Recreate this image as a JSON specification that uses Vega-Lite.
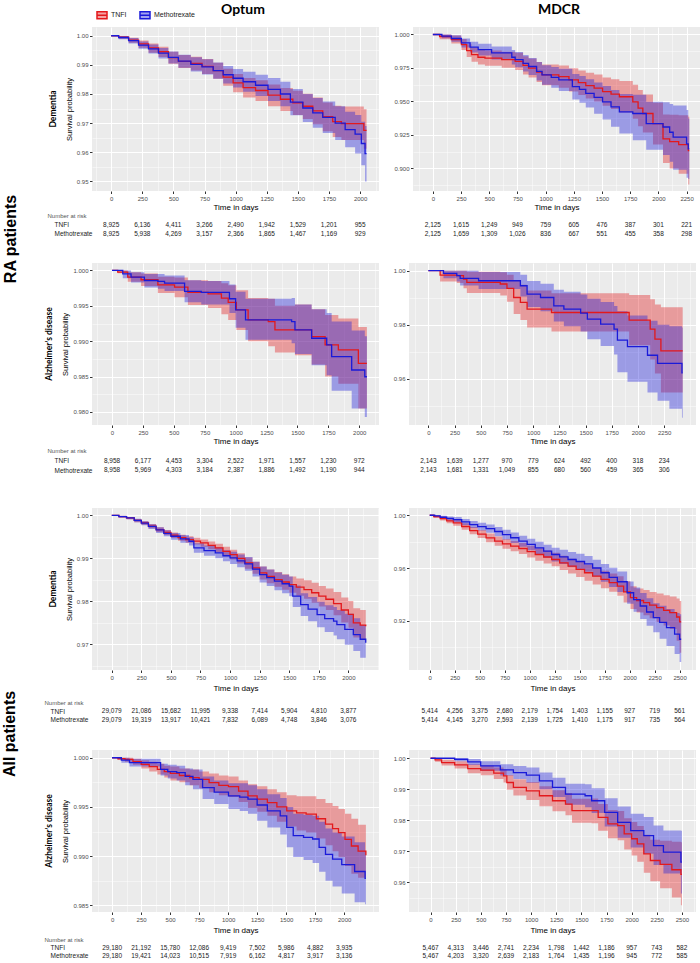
{
"$schema": "https://vega.github.io/schema/vega-lite/v6.json",
"background": "white",
"padding": {"left": 2, "top": 3, "right": 2, "bottom": 0},
"config": {
  "view": {"stroke": null},
  "font": "Liberation Sans",
  "axis": {"domain": false, "labelFont": "Liberation Sans", "labelFontSize": 6, "labelColor": "#4D4D4D", "titleFont": "Liberation Sans", "titleFontWeight": "normal", "titleColor": "#000000", "tickSize": 2.5, "labelPadding": 1.5, "gridColor": "#FFFFFF"},
  "axisX": {"titleFontSize": 8, "titlePadding": 2},
  "axisY": {"titleFontSize": 7.5, "titlePadding": 3},
  "legend": {"orient": "none", "legendX": 4, "legendY": -18, "direction": "horizontal", "labelFont": "Liberation Sans", "labelFontSize": 7, "labelColor": "#222222", "symbolSize": 100, "columnPadding": 10, "labelOffset": 3},
  "title": {"font": "Lato", "fontWeight": "bold", "color": "#000000"}
},
"datasets": {
"km": [
{"p":1,"g":"TNFI","t":0,"s":1,"lo":1,"hi":1},
{"p":1,"g":"TNFI","t":60,"s":0.9995,"lo":0.999,"hi":0.9999},
{"p":1,"g":"TNFI","t":140,"s":0.9985,"lo":0.9976,"hi":0.9993},
{"p":1,"g":"TNFI","t":220,"s":0.9972,"lo":0.9959,"hi":0.9984},
{"p":1,"g":"TNFI","t":300,"s":0.9958,"lo":0.9942,"hi":0.9973},
{"p":1,"g":"TNFI","t":380,"s":0.9945,"lo":0.9927,"hi":0.9962},
{"p":1,"g":"TNFI","t":460,"s":0.9925,"lo":0.9904,"hi":0.9945},
{"p":1,"g":"TNFI","t":540,"s":0.9912,"lo":0.9889,"hi":0.9934},
{"p":1,"g":"TNFI","t":640,"s":0.9905,"lo":0.9881,"hi":0.9928},
{"p":1,"g":"TNFI","t":730,"s":0.9895,"lo":0.9869,"hi":0.992},
{"p":1,"g":"TNFI","t":820,"s":0.988,"lo":0.9852,"hi":0.9907},
{"p":1,"g":"TNFI","t":900,"s":0.9858,"lo":0.9828,"hi":0.9887},
{"p":1,"g":"TNFI","t":980,"s":0.9838,"lo":0.9806,"hi":0.9869},
{"p":1,"g":"TNFI","t":1060,"s":0.9822,"lo":0.9788,"hi":0.9855},
{"p":1,"g":"TNFI","t":1160,"s":0.9812,"lo":0.9776,"hi":0.9847},
{"p":1,"g":"TNFI","t":1260,"s":0.9796,"lo":0.9758,"hi":0.9833},
{"p":1,"g":"TNFI","t":1360,"s":0.9782,"lo":0.9742,"hi":0.9821},
{"p":1,"g":"TNFI","t":1460,"s":0.977,"lo":0.9728,"hi":0.9811},
{"p":1,"g":"TNFI","t":1540,"s":0.9758,"lo":0.9714,"hi":0.9801},
{"p":1,"g":"TNFI","t":1620,"s":0.9742,"lo":0.9696,"hi":0.9788},
{"p":1,"g":"TNFI","t":1700,"s":0.9722,"lo":0.9672,"hi":0.9771},
{"p":1,"g":"TNFI","t":1780,"s":0.9705,"lo":0.9652,"hi":0.976},
{"p":1,"g":"TNFI","t":1850,"s":0.9698,"lo":0.9642,"hi":0.9757},
{"p":1,"g":"TNFI","t":2030,"s":0.9675,"lo":0.9612,"hi":0.9748},
{"p":1,"g":"TNFI","t":2052,"s":0.9675,"lo":0.9612,"hi":0.9748},
{"p":1,"g":"Methotrexate","t":0,"s":1,"lo":1,"hi":1},
{"p":1,"g":"Methotrexate","t":60,"s":0.9994,"lo":0.9988,"hi":0.9999},
{"p":1,"g":"Methotrexate","t":140,"s":0.9983,"lo":0.9973,"hi":0.9992},
{"p":1,"g":"Methotrexate","t":220,"s":0.9968,"lo":0.9955,"hi":0.998},
{"p":1,"g":"Methotrexate","t":300,"s":0.9955,"lo":0.9939,"hi":0.997},
{"p":1,"g":"Methotrexate","t":380,"s":0.994,"lo":0.9922,"hi":0.9958},
{"p":1,"g":"Methotrexate","t":460,"s":0.9926,"lo":0.9905,"hi":0.9946},
{"p":1,"g":"Methotrexate","t":540,"s":0.9913,"lo":0.989,"hi":0.9935},
{"p":1,"g":"Methotrexate","t":640,"s":0.9902,"lo":0.9877,"hi":0.9926},
{"p":1,"g":"Methotrexate","t":730,"s":0.9893,"lo":0.9867,"hi":0.9919},
{"p":1,"g":"Methotrexate","t":820,"s":0.988,"lo":0.9852,"hi":0.9908},
{"p":1,"g":"Methotrexate","t":900,"s":0.9866,"lo":0.9836,"hi":0.9896},
{"p":1,"g":"Methotrexate","t":980,"s":0.9854,"lo":0.9822,"hi":0.9886},
{"p":1,"g":"Methotrexate","t":1060,"s":0.9842,"lo":0.9808,"hi":0.9876},
{"p":1,"g":"Methotrexate","t":1160,"s":0.983,"lo":0.9793,"hi":0.9866},
{"p":1,"g":"Methotrexate","t":1260,"s":0.9816,"lo":0.9776,"hi":0.9855},
{"p":1,"g":"Methotrexate","t":1360,"s":0.98,"lo":0.9758,"hi":0.9842},
{"p":1,"g":"Methotrexate","t":1440,"s":0.9772,"lo":0.9727,"hi":0.9817},
{"p":1,"g":"Methotrexate","t":1540,"s":0.9752,"lo":0.9704,"hi":0.98},
{"p":1,"g":"Methotrexate","t":1620,"s":0.9735,"lo":0.9684,"hi":0.9786},
{"p":1,"g":"Methotrexate","t":1700,"s":0.972,"lo":0.9666,"hi":0.9774},
{"p":1,"g":"Methotrexate","t":1800,"s":0.97,"lo":0.9642,"hi":0.9758},
{"p":1,"g":"Methotrexate","t":1880,"s":0.9678,"lo":0.9617,"hi":0.9739},
{"p":1,"g":"Methotrexate","t":1960,"s":0.9662,"lo":0.9596,"hi":0.9728},
{"p":1,"g":"Methotrexate","t":2010,"s":0.963,"lo":0.9555,"hi":0.9705},
{"p":1,"g":"Methotrexate","t":2040,"s":0.9595,"lo":0.95,"hi":0.969},
{"p":1,"g":"Methotrexate","t":2052,"s":0.9595,"lo":0.95,"hi":0.969},

{"p":2,"g":"TNFI","t":0,"s":1,"lo":1,"hi":1},
{"p":2,"g":"TNFI","t":60,"s":0.9985,"lo":0.9965,"hi":1},
{"p":2,"g":"TNFI","t":164,"s":0.9962,"lo":0.9932,"hi":0.9992},
{"p":2,"g":"TNFI","t":253,"s":0.9925,"lo":0.9884,"hi":0.9966},
{"p":2,"g":"TNFI","t":300,"s":0.988,"lo":0.9832,"hi":0.9928},
{"p":2,"g":"TNFI","t":343,"s":0.9849,"lo":0.9797,"hi":0.9901},
{"p":2,"g":"TNFI","t":400,"s":0.983,"lo":0.9775,"hi":0.9885},
{"p":2,"g":"TNFI","t":462,"s":0.9824,"lo":0.9767,"hi":0.9881},
{"p":2,"g":"TNFI","t":611,"s":0.9812,"lo":0.9752,"hi":0.9872},
{"p":2,"g":"TNFI","t":730,"s":0.9799,"lo":0.9735,"hi":0.9863},
{"p":2,"g":"TNFI","t":800,"s":0.977,"lo":0.9702,"hi":0.9838},
{"p":2,"g":"TNFI","t":849,"s":0.9749,"lo":0.9678,"hi":0.982},
{"p":2,"g":"TNFI","t":920,"s":0.972,"lo":0.9645,"hi":0.9795},
{"p":2,"g":"TNFI","t":968,"s":0.9698,"lo":0.962,"hi":0.9776},
{"p":2,"g":"TNFI","t":1117,"s":0.9686,"lo":0.9603,"hi":0.9769},
{"p":2,"g":"TNFI","t":1207,"s":0.9661,"lo":0.9574,"hi":0.9748},
{"p":2,"g":"TNFI","t":1290,"s":0.964,"lo":0.9548,"hi":0.9732},
{"p":2,"g":"TNFI","t":1356,"s":0.9618,"lo":0.9522,"hi":0.9714},
{"p":2,"g":"TNFI","t":1430,"s":0.96,"lo":0.9499,"hi":0.9701},
{"p":2,"g":"TNFI","t":1505,"s":0.9573,"lo":0.9468,"hi":0.9678},
{"p":2,"g":"TNFI","t":1580,"s":0.9555,"lo":0.9444,"hi":0.9666},
{"p":2,"g":"TNFI","t":1654,"s":0.9535,"lo":0.9418,"hi":0.9652},
{"p":2,"g":"TNFI","t":1773,"s":0.9497,"lo":0.937,"hi":0.9624},
{"p":2,"g":"TNFI","t":1820,"s":0.945,"lo":0.9315,"hi":0.9585},
{"p":2,"g":"TNFI","t":1862,"s":0.941,"lo":0.9268,"hi":0.9552},
{"p":2,"g":"TNFI","t":1952,"s":0.9334,"lo":0.9178,"hi":0.949},
{"p":2,"g":"TNFI","t":2041,"s":0.9221,"lo":0.904,"hi":0.9402},
{"p":2,"g":"TNFI","t":2100,"s":0.92,"lo":0.9,"hi":0.94},
{"p":2,"g":"TNFI","t":2180,"s":0.9178,"lo":0.896,"hi":0.9396},
{"p":2,"g":"TNFI","t":2265,"s":0.9133,"lo":0.888,"hi":0.9386},
{"p":2,"g":"TNFI","t":2274,"s":0.9133,"lo":0.888,"hi":0.9386},
{"p":2,"g":"Methotrexate","t":0,"s":1,"lo":1,"hi":1},
{"p":2,"g":"Methotrexate","t":80,"s":0.9988,"lo":0.9972,"hi":1},
{"p":2,"g":"Methotrexate","t":164,"s":0.997,"lo":0.9945,"hi":0.9995},
{"p":2,"g":"Methotrexate","t":253,"s":0.9937,"lo":0.9903,"hi":0.9971},
{"p":2,"g":"Methotrexate","t":330,"s":0.9905,"lo":0.9865,"hi":0.9945},
{"p":2,"g":"Methotrexate","t":402,"s":0.9887,"lo":0.9843,"hi":0.9931},
{"p":2,"g":"Methotrexate","t":521,"s":0.9862,"lo":0.9813,"hi":0.9911},
{"p":2,"g":"Methotrexate","t":700,"s":0.983,"lo":0.9776,"hi":0.9884},
{"p":2,"g":"Methotrexate","t":730,"s":0.9812,"lo":0.9755,"hi":0.9869},
{"p":2,"g":"Methotrexate","t":800,"s":0.9785,"lo":0.9724,"hi":0.9846},
{"p":2,"g":"Methotrexate","t":849,"s":0.9761,"lo":0.9697,"hi":0.9825},
{"p":2,"g":"Methotrexate","t":920,"s":0.9725,"lo":0.9656,"hi":0.9794},
{"p":2,"g":"Methotrexate","t":968,"s":0.9698,"lo":0.9625,"hi":0.9771},
{"p":2,"g":"Methotrexate","t":1050,"s":0.968,"lo":0.9602,"hi":0.9758},
{"p":2,"g":"Methotrexate","t":1117,"s":0.9661,"lo":0.9578,"hi":0.9744},
{"p":2,"g":"Methotrexate","t":1237,"s":0.961,"lo":0.9515,"hi":0.9705},
{"p":2,"g":"Methotrexate","t":1300,"s":0.959,"lo":0.949,"hi":0.969},
{"p":2,"g":"Methotrexate","t":1356,"s":0.956,"lo":0.9455,"hi":0.9665},
{"p":2,"g":"Methotrexate","t":1430,"s":0.953,"lo":0.9408,"hi":0.9642},
{"p":2,"g":"Methotrexate","t":1505,"s":0.9497,"lo":0.9365,"hi":0.9616},
{"p":2,"g":"Methotrexate","t":1580,"s":0.946,"lo":0.931,"hi":0.9586},
{"p":2,"g":"Methotrexate","t":1654,"s":0.9422,"lo":0.926,"hi":0.9556},
{"p":2,"g":"Methotrexate","t":1773,"s":0.941,"lo":0.921,"hi":0.955},
{"p":2,"g":"Methotrexate","t":1892,"s":0.9334,"lo":0.914,"hi":0.9498},
{"p":2,"g":"Methotrexate","t":2041,"s":0.9309,"lo":0.91,"hi":0.9493},
{"p":2,"g":"Methotrexate","t":2100,"s":0.927,"lo":0.905,"hi":0.948},
{"p":2,"g":"Methotrexate","t":2131,"s":0.9234,"lo":0.899,"hi":0.947},
{"p":2,"g":"Methotrexate","t":2250,"s":0.9183,"lo":0.893,"hi":0.9436},
{"p":2,"g":"Methotrexate","t":2265,"s":0.9146,"lo":0.892,"hi":0.9372},
{"p":2,"g":"Methotrexate","t":2274,"s":0.9146,"lo":0.892,"hi":0.9372},

{"p":3,"g":"TNFI","t":0,"s":1,"lo":1,"hi":1},
{"p":3,"g":"TNFI","t":46,"s":0.99976,"lo":0.9996,"hi":1},
{"p":3,"g":"TNFI","t":127,"s":0.99906,"lo":0.9984,"hi":0.99975},
{"p":3,"g":"TNFI","t":235,"s":0.99868,"lo":0.9978,"hi":0.99955},
{"p":3,"g":"TNFI","t":371,"s":0.99797,"lo":0.9968,"hi":0.9991},
{"p":3,"g":"TNFI","t":506,"s":0.99764,"lo":0.9962,"hi":0.999},
{"p":3,"g":"TNFI","t":614,"s":0.99689,"lo":0.9951,"hi":0.9986},
{"p":3,"g":"TNFI","t":777,"s":0.9967,"lo":0.9947,"hi":0.9985},
{"p":3,"g":"TNFI","t":885,"s":0.99608,"lo":0.9938,"hi":0.9982},
{"p":3,"g":"TNFI","t":940,"s":0.9955,"lo":0.993,"hi":0.9979},
{"p":3,"g":"TNFI","t":1006,"s":0.99443,"lo":0.9916,"hi":0.9972},
{"p":3,"g":"TNFI","t":1101,"s":0.99302,"lo":0.99,"hi":0.9961},
{"p":3,"g":"TNFI","t":1264,"s":0.99278,"lo":0.9893,"hi":0.996},
{"p":3,"g":"TNFI","t":1318,"s":0.9916,"lo":0.9884,"hi":0.995},
{"p":3,"g":"TNFI","t":1480,"s":0.9916,"lo":0.988,"hi":0.9952},
{"p":3,"g":"TNFI","t":1615,"s":0.99066,"lo":0.9867,"hi":0.9945},
{"p":3,"g":"TNFI","t":1724,"s":0.98948,"lo":0.985,"hi":0.9937},
{"p":3,"g":"TNFI","t":1831,"s":0.98877,"lo":0.984,"hi":0.9932},
{"p":3,"g":"TNFI","t":1993,"s":0.98688,"lo":0.9805,"hi":0.992},
{"p":3,"g":"TNFI","t":2062,"s":0.98688,"lo":0.9799,"hi":0.9918},
{"p":3,"g":"Methotrexate","t":0,"s":1,"lo":1,"hi":1},
{"p":3,"g":"Methotrexate","t":87,"s":0.9995,"lo":0.9989,"hi":1},
{"p":3,"g":"Methotrexate","t":154,"s":0.99906,"lo":0.9983,"hi":0.99975},
{"p":3,"g":"Methotrexate","t":262,"s":0.99858,"lo":0.9976,"hi":0.9995},
{"p":3,"g":"Methotrexate","t":371,"s":0.99844,"lo":0.9974,"hi":0.9995},
{"p":3,"g":"Methotrexate","t":425,"s":0.99821,"lo":0.9971,"hi":0.9993},
{"p":3,"g":"Methotrexate","t":587,"s":0.99703,"lo":0.9955,"hi":0.9986},
{"p":3,"g":"Methotrexate","t":722,"s":0.99689,"lo":0.9952,"hi":0.9985},
{"p":3,"g":"Methotrexate","t":950,"s":0.996,"lo":0.994,"hi":0.998},
{"p":3,"g":"Methotrexate","t":1000,"s":0.99443,"lo":0.9919,"hi":0.997},
{"p":3,"g":"Methotrexate","t":1080,"s":0.99302,"lo":0.9902,"hi":0.996},
{"p":3,"g":"Methotrexate","t":1453,"s":0.99278,"lo":0.9897,"hi":0.9961},
{"p":3,"g":"Methotrexate","t":1480,"s":0.9916,"lo":0.9882,"hi":0.9952},
{"p":3,"g":"Methotrexate","t":1615,"s":0.99042,"lo":0.9866,"hi":0.9945},
{"p":3,"g":"Methotrexate","t":1737,"s":0.98948,"lo":0.9852,"hi":0.994},
{"p":3,"g":"Methotrexate","t":1777,"s":0.98782,"lo":0.983,"hi":0.9928},
{"p":3,"g":"Methotrexate","t":1939,"s":0.98593,"lo":0.9805,"hi":0.9915},
{"p":3,"g":"Methotrexate","t":2045,"s":0.98498,"lo":0.9793,"hi":0.9907},
{"p":3,"g":"Methotrexate","t":2062,"s":0.98498,"lo":0.9793,"hi":0.9907},

{"p":4,"g":"TNFI","t":0,"s":1,"lo":1,"hi":1},
{"p":4,"g":"TNFI","t":112,"s":0.9984,"lo":0.996,"hi":1},
{"p":4,"g":"TNFI","t":271,"s":0.99815,"lo":0.9955,"hi":1},
{"p":4,"g":"TNFI","t":335,"s":0.9969,"lo":0.9935,"hi":1},
{"p":4,"g":"TNFI","t":367,"s":0.9957,"lo":0.9918,"hi":0.9996},
{"p":4,"g":"TNFI","t":686,"s":0.9951,"lo":0.9908,"hi":0.9994},
{"p":4,"g":"TNFI","t":750,"s":0.99346,"lo":0.9885,"hi":0.9985},
{"p":4,"g":"TNFI","t":814,"s":0.9901,"lo":0.984,"hi":0.9962},
{"p":4,"g":"TNFI","t":878,"s":0.98827,"lo":0.9818,"hi":0.9948},
{"p":4,"g":"TNFI","t":942,"s":0.9858,"lo":0.979,"hi":0.9927},
{"p":4,"g":"TNFI","t":1175,"s":0.98457,"lo":0.9775,"hi":0.9917},
{"p":4,"g":"TNFI","t":1916,"s":0.98173,"lo":0.9725,"hi":0.991},
{"p":4,"g":"TNFI","t":2117,"s":0.9784,"lo":0.9672,"hi":0.9895},
{"p":4,"g":"TNFI","t":2162,"s":0.9747,"lo":0.962,"hi":0.9875},
{"p":4,"g":"TNFI","t":2219,"s":0.97037,"lo":0.955,"hi":0.9865},
{"p":4,"g":"TNFI","t":2427,"s":0.97037,"lo":0.955,"hi":0.9865},
{"p":4,"g":"Methotrexate","t":0,"s":1,"lo":1,"hi":1},
{"p":4,"g":"Methotrexate","t":144,"s":0.999,"lo":0.9972,"hi":1},
{"p":4,"g":"Methotrexate","t":271,"s":0.99815,"lo":0.996,"hi":1},
{"p":4,"g":"Methotrexate","t":303,"s":0.9972,"lo":0.9945,"hi":1},
{"p":4,"g":"Methotrexate","t":479,"s":0.9963,"lo":0.9932,"hi":0.9995},
{"p":4,"g":"Methotrexate","t":878,"s":0.99444,"lo":0.9905,"hi":0.9985},
{"p":4,"g":"Methotrexate","t":942,"s":0.99136,"lo":0.9866,"hi":0.9962},
{"p":4,"g":"Methotrexate","t":1070,"s":0.9901,"lo":0.985,"hi":0.9952},
{"p":4,"g":"Methotrexate","t":1197,"s":0.98704,"lo":0.9812,"hi":0.993},
{"p":4,"g":"Methotrexate","t":1293,"s":0.9858,"lo":0.9795,"hi":0.9922},
{"p":4,"g":"Methotrexate","t":1453,"s":0.9843,"lo":0.9775,"hi":0.9912},
{"p":4,"g":"Methotrexate","t":1517,"s":0.9821,"lo":0.9747,"hi":0.9896},
{"p":4,"g":"Methotrexate","t":1644,"s":0.98025,"lo":0.9722,"hi":0.9884},
{"p":4,"g":"Methotrexate","t":1772,"s":0.9784,"lo":0.969,"hi":0.987},
{"p":4,"g":"Methotrexate","t":1804,"s":0.97432,"lo":0.9625,"hi":0.985},
{"p":4,"g":"Methotrexate","t":1900,"s":0.97198,"lo":0.959,"hi":0.9835},
{"p":4,"g":"Methotrexate","t":2091,"s":0.96877,"lo":0.955,"hi":0.9815},
{"p":4,"g":"Methotrexate","t":2187,"s":0.9658,"lo":0.952,"hi":0.98},
{"p":4,"g":"Methotrexate","t":2300,"s":0.9658,"lo":0.949,"hi":0.9795},
{"p":4,"g":"Methotrexate","t":2420,"s":0.9623,"lo":0.9457,"hi":0.979},
{"p":4,"g":"Methotrexate","t":2427,"s":0.9623,"lo":0.9457,"hi":0.979},

{"p":5,"g":"TNFI","t":0,"s":1,"lo":1,"hi":1},
{"p":5,"g":"TNFI","t":60,"s":0.9997,"lo":0.9995,"hi":0.9999},
{"p":5,"g":"TNFI","t":125,"s":0.99938,"lo":0.9991,"hi":0.9996},
{"p":5,"g":"TNFI","t":190,"s":0.9988,"lo":0.9984,"hi":0.9991},
{"p":5,"g":"TNFI","t":250,"s":0.99822,"lo":0.9978,"hi":0.9986},
{"p":5,"g":"TNFI","t":310,"s":0.9975,"lo":0.997,"hi":0.998},
{"p":5,"g":"TNFI","t":375,"s":0.99667,"lo":0.9961,"hi":0.9972},
{"p":5,"g":"TNFI","t":440,"s":0.996,"lo":0.9954,"hi":0.9966},
{"p":5,"g":"TNFI","t":500,"s":0.99536,"lo":0.9947,"hi":0.996},
{"p":5,"g":"TNFI","t":560,"s":0.9948,"lo":0.9941,"hi":0.9955},
{"p":5,"g":"TNFI","t":625,"s":0.99435,"lo":0.9936,"hi":0.9951},
{"p":5,"g":"TNFI","t":690,"s":0.994,"lo":0.9932,"hi":0.9948},
{"p":5,"g":"TNFI","t":750,"s":0.99358,"lo":0.9927,"hi":0.9944},
{"p":5,"g":"TNFI","t":815,"s":0.993,"lo":0.9921,"hi":0.9939},
{"p":5,"g":"TNFI","t":875,"s":0.99242,"lo":0.9914,"hi":0.9934},
{"p":5,"g":"TNFI","t":940,"s":0.9916,"lo":0.9905,"hi":0.9927},
{"p":5,"g":"TNFI","t":1000,"s":0.99087,"lo":0.9897,"hi":0.992},
{"p":5,"g":"TNFI","t":1060,"s":0.99,"lo":0.9888,"hi":0.9912},
{"p":5,"g":"TNFI","t":1125,"s":0.98894,"lo":0.9876,"hi":0.9902},
{"p":5,"g":"TNFI","t":1190,"s":0.9878,"lo":0.9864,"hi":0.9892},
{"p":5,"g":"TNFI","t":1250,"s":0.98662,"lo":0.9851,"hi":0.9881},
{"p":5,"g":"TNFI","t":1310,"s":0.9858,"lo":0.9842,"hi":0.9874},
{"p":5,"g":"TNFI","t":1375,"s":0.98507,"lo":0.9834,"hi":0.9868},
{"p":5,"g":"TNFI","t":1440,"s":0.9845,"lo":0.9827,"hi":0.9863},
{"p":5,"g":"TNFI","t":1500,"s":0.98391,"lo":0.982,"hi":0.9858},
{"p":5,"g":"TNFI","t":1560,"s":0.9833,"lo":0.9813,"hi":0.9853},
{"p":5,"g":"TNFI","t":1625,"s":0.98275,"lo":0.9806,"hi":0.9849},
{"p":5,"g":"TNFI","t":1690,"s":0.982,"lo":0.9797,"hi":0.9843},
{"p":5,"g":"TNFI","t":1750,"s":0.98121,"lo":0.9788,"hi":0.9836},
{"p":5,"g":"TNFI","t":1810,"s":0.9805,"lo":0.978,"hi":0.983},
{"p":5,"g":"TNFI","t":1875,"s":0.9795,"lo":0.9768,"hi":0.9822},
{"p":5,"g":"TNFI","t":1940,"s":0.978,"lo":0.9751,"hi":0.9809},
{"p":5,"g":"TNFI","t":2000,"s":0.977,"lo":0.9739,"hi":0.9801},
{"p":5,"g":"TNFI","t":2042,"s":0.975,"lo":0.9716,"hi":0.9784},
{"p":5,"g":"TNFI","t":2100,"s":0.9745,"lo":0.971,"hi":0.978},
{"p":5,"g":"TNFI","t":2147,"s":0.97425,"lo":0.9711,"hi":0.9777},
{"p":5,"g":"Methotrexate","t":0,"s":1,"lo":1,"hi":1},
{"p":5,"g":"Methotrexate","t":60,"s":0.9997,"lo":0.9995,"hi":0.9999},
{"p":5,"g":"Methotrexate","t":125,"s":0.99938,"lo":0.9991,"hi":0.9996},
{"p":5,"g":"Methotrexate","t":190,"s":0.9988,"lo":0.9984,"hi":0.9992},
{"p":5,"g":"Methotrexate","t":250,"s":0.9982,"lo":0.9977,"hi":0.9986},
{"p":5,"g":"Methotrexate","t":310,"s":0.9974,"lo":0.9968,"hi":0.9979},
{"p":5,"g":"Methotrexate","t":375,"s":0.9966,"lo":0.9959,"hi":0.9972},
{"p":5,"g":"Methotrexate","t":440,"s":0.9958,"lo":0.9951,"hi":0.9965},
{"p":5,"g":"Methotrexate","t":500,"s":0.99513,"lo":0.9943,"hi":0.9959},
{"p":5,"g":"Methotrexate","t":580,"s":0.9945,"lo":0.9936,"hi":0.9954},
{"p":5,"g":"Methotrexate","t":653,"s":0.99397,"lo":0.993,"hi":0.9949},
{"p":5,"g":"Methotrexate","t":694,"s":0.99242,"lo":0.9913,"hi":0.9935},
{"p":5,"g":"Methotrexate","t":780,"s":0.9918,"lo":0.9906,"hi":0.993},
{"p":5,"g":"Methotrexate","t":875,"s":0.99126,"lo":0.99,"hi":0.9925},
{"p":5,"g":"Methotrexate","t":940,"s":0.9906,"lo":0.9893,"hi":0.9919},
{"p":5,"g":"Methotrexate","t":1000,"s":0.9901,"lo":0.9887,"hi":0.9915},
{"p":5,"g":"Methotrexate","t":1060,"s":0.9894,"lo":0.9879,"hi":0.9909},
{"p":5,"g":"Methotrexate","t":1125,"s":0.98871,"lo":0.9871,"hi":0.9903},
{"p":5,"g":"Methotrexate","t":1190,"s":0.9875,"lo":0.9858,"hi":0.9892},
{"p":5,"g":"Methotrexate","t":1250,"s":0.98623,"lo":0.9844,"hi":0.9881},
{"p":5,"g":"Methotrexate","t":1310,"s":0.9855,"lo":0.9836,"hi":0.9874},
{"p":5,"g":"Methotrexate","t":1375,"s":0.98469,"lo":0.9826,"hi":0.9867},
{"p":5,"g":"Methotrexate","t":1440,"s":0.9841,"lo":0.9819,"hi":0.9862},
{"p":5,"g":"Methotrexate","t":1500,"s":0.98353,"lo":0.9812,"hi":0.9858},
{"p":5,"g":"Methotrexate","t":1530,"s":0.9812,"lo":0.9787,"hi":0.9837},
{"p":5,"g":"Methotrexate","t":1597,"s":0.97926,"lo":0.9766,"hi":0.9819},
{"p":5,"g":"Methotrexate","t":1660,"s":0.9782,"lo":0.9754,"hi":0.981},
{"p":5,"g":"Methotrexate","t":1736,"s":0.97694,"lo":0.974,"hi":0.9799},
{"p":5,"g":"Methotrexate","t":1800,"s":0.976,"lo":0.9729,"hi":0.9791},
{"p":5,"g":"Methotrexate","t":1875,"s":0.97541,"lo":0.9721,"hi":0.9787},
{"p":5,"g":"Methotrexate","t":1903,"s":0.97462,"lo":0.9712,"hi":0.978},
{"p":5,"g":"Methotrexate","t":1970,"s":0.9735,"lo":0.9699,"hi":0.9771},
{"p":5,"g":"Methotrexate","t":2042,"s":0.9723,"lo":0.9685,"hi":0.9761},
{"p":5,"g":"Methotrexate","t":2100,"s":0.9712,"lo":0.9669,"hi":0.9745},
{"p":5,"g":"Methotrexate","t":2147,"s":0.97037,"lo":0.9661,"hi":0.9735},

{"p":6,"g":"TNFI","t":0,"s":1,"lo":1,"hi":1},
{"p":6,"g":"TNFI","t":40,"s":0.999,"lo":0.998,"hi":1},
{"p":6,"g":"TNFI","t":105,"s":0.99748,"lo":0.996,"hi":0.999},
{"p":6,"g":"TNFI","t":170,"s":0.9958,"lo":0.994,"hi":0.9976},
{"p":6,"g":"TNFI","t":236,"s":0.99421,"lo":0.992,"hi":0.9964},
{"p":6,"g":"TNFI","t":320,"s":0.9915,"lo":0.989,"hi":0.994},
{"p":6,"g":"TNFI","t":400,"s":0.98843,"lo":0.9857,"hi":0.9912},
{"p":6,"g":"TNFI","t":480,"s":0.9858,"lo":0.9828,"hi":0.9888},
{"p":6,"g":"TNFI","t":564,"s":0.98289,"lo":0.9796,"hi":0.9862},
{"p":6,"g":"TNFI","t":650,"s":0.9805,"lo":0.977,"hi":0.984},
{"p":6,"g":"TNFI","t":728,"s":0.97836,"lo":0.9746,"hi":0.9821},
{"p":6,"g":"TNFI","t":810,"s":0.9766,"lo":0.9727,"hi":0.9805},
{"p":6,"g":"TNFI","t":892,"s":0.97484,"lo":0.9706,"hi":0.9791},
{"p":6,"g":"TNFI","t":975,"s":0.9725,"lo":0.9681,"hi":0.9769},
{"p":6,"g":"TNFI","t":1056,"s":0.97031,"lo":0.9656,"hi":0.975},
{"p":6,"g":"TNFI","t":1140,"s":0.9684,"lo":0.9635,"hi":0.9733},
{"p":6,"g":"TNFI","t":1220,"s":0.96654,"lo":0.9614,"hi":0.9717},
{"p":6,"g":"TNFI","t":1300,"s":0.964,"lo":0.9586,"hi":0.9694},
{"p":6,"g":"TNFI","t":1384,"s":0.96151,"lo":0.9559,"hi":0.9671},
{"p":6,"g":"TNFI","t":1465,"s":0.959,"lo":0.9532,"hi":0.9648},
{"p":6,"g":"TNFI","t":1549,"s":0.95648,"lo":0.9504,"hi":0.9626},
{"p":6,"g":"TNFI","t":1630,"s":0.954,"lo":0.9476,"hi":0.9604},
{"p":6,"g":"TNFI","t":1713,"s":0.95145,"lo":0.9448,"hi":0.9581},
{"p":6,"g":"TNFI","t":1795,"s":0.949,"lo":0.9421,"hi":0.9559},
{"p":6,"g":"TNFI","t":1877,"s":0.94642,"lo":0.939,"hi":0.9538},
{"p":6,"g":"TNFI","t":1940,"s":0.942,"lo":0.934,"hi":0.95},
{"p":6,"g":"TNFI","t":2008,"s":0.93761,"lo":0.929,"hi":0.9462},
{"p":6,"g":"TNFI","t":2070,"s":0.9355,"lo":0.9265,"hi":0.9445},
{"p":6,"g":"TNFI","t":2139,"s":0.93384,"lo":0.9243,"hi":0.9434},
{"p":6,"g":"TNFI","t":2200,"s":0.932,"lo":0.922,"hi":0.942},
{"p":6,"g":"TNFI","t":2270,"s":0.93006,"lo":0.9193,"hi":0.9408},
{"p":6,"g":"TNFI","t":2340,"s":0.928,"lo":0.9165,"hi":0.9395},
{"p":6,"g":"TNFI","t":2402,"s":0.92629,"lo":0.914,"hi":0.9385},
{"p":6,"g":"TNFI","t":2470,"s":0.923,"lo":0.905,"hi":0.937},
{"p":6,"g":"TNFI","t":2500,"s":0.91925,"lo":0.896,"hi":0.9351},
{"p":6,"g":"TNFI","t":2516,"s":0.91925,"lo":0.896,"hi":0.9351},
{"p":6,"g":"Methotrexate","t":0,"s":1,"lo":1,"hi":1},
{"p":6,"g":"Methotrexate","t":50,"s":0.9995,"lo":0.9988,"hi":1},
{"p":6,"g":"Methotrexate","t":105,"s":0.99849,"lo":0.9972,"hi":0.9997},
{"p":6,"g":"Methotrexate","t":170,"s":0.9976,"lo":0.996,"hi":0.9991},
{"p":6,"g":"Methotrexate","t":236,"s":0.99673,"lo":0.9948,"hi":0.9986},
{"p":6,"g":"Methotrexate","t":320,"s":0.995,"lo":0.9927,"hi":0.9972},
{"p":6,"g":"Methotrexate","t":400,"s":0.99296,"lo":0.9903,"hi":0.9956},
{"p":6,"g":"Methotrexate","t":480,"s":0.9914,"lo":0.9885,"hi":0.9943},
{"p":6,"g":"Methotrexate","t":564,"s":0.98994,"lo":0.9867,"hi":0.9931},
{"p":6,"g":"Methotrexate","t":650,"s":0.9877,"lo":0.9842,"hi":0.9912},
{"p":6,"g":"Methotrexate","t":728,"s":0.98541,"lo":0.9817,"hi":0.9891},
{"p":6,"g":"Methotrexate","t":810,"s":0.983,"lo":0.9791,"hi":0.9869},
{"p":6,"g":"Methotrexate","t":892,"s":0.98038,"lo":0.9762,"hi":0.9845},
{"p":6,"g":"Methotrexate","t":975,"s":0.9779,"lo":0.9735,"hi":0.9823},
{"p":6,"g":"Methotrexate","t":1056,"s":0.97535,"lo":0.9707,"hi":0.98},
{"p":6,"g":"Methotrexate","t":1140,"s":0.9728,"lo":0.9679,"hi":0.9777},
{"p":6,"g":"Methotrexate","t":1220,"s":0.97031,"lo":0.9651,"hi":0.9755},
{"p":6,"g":"Methotrexate","t":1300,"s":0.9685,"lo":0.9631,"hi":0.9739},
{"p":6,"g":"Methotrexate","t":1384,"s":0.96654,"lo":0.9608,"hi":0.9722},
{"p":6,"g":"Methotrexate","t":1465,"s":0.965,"lo":0.9592,"hi":0.9708},
{"p":6,"g":"Methotrexate","t":1549,"s":0.96327,"lo":0.9573,"hi":0.9692},
{"p":6,"g":"Methotrexate","t":1630,"s":0.9601,"lo":0.9538,"hi":0.9664},
{"p":6,"g":"Methotrexate","t":1713,"s":0.95648,"lo":0.9497,"hi":0.9632},
{"p":6,"g":"Methotrexate","t":1795,"s":0.953,"lo":0.9458,"hi":0.9602},
{"p":6,"g":"Methotrexate","t":1877,"s":0.94969,"lo":0.942,"hi":0.9574},
{"p":6,"g":"Methotrexate","t":1975,"s":0.94138,"lo":0.933,"hi":0.9498},
{"p":6,"g":"Methotrexate","t":2040,"s":0.9362,"lo":0.927,"hi":0.9454},
{"p":6,"g":"Methotrexate","t":2106,"s":0.93132,"lo":0.9215,"hi":0.9411},
{"p":6,"g":"Methotrexate","t":2170,"s":0.9268,"lo":0.9164,"hi":0.9372},
{"p":6,"g":"Methotrexate","t":2237,"s":0.92252,"lo":0.9115,"hi":0.9335},
{"p":6,"g":"Methotrexate","t":2300,"s":0.919,"lo":0.9065,"hi":0.9315},
{"p":6,"g":"Methotrexate","t":2369,"s":0.91497,"lo":0.901,"hi":0.929},
{"p":6,"g":"Methotrexate","t":2450,"s":0.91,"lo":0.895,"hi":0.926},
{"p":6,"g":"Methotrexate","t":2500,"s":0.90616,"lo":0.889,"hi":0.925},
{"p":6,"g":"Methotrexate","t":2516,"s":0.90616,"lo":0.889,"hi":0.925},

{"p":7,"g":"TNFI","t":0,"s":1,"lo":1,"hi":1},
{"p":7,"g":"TNFI","t":50,"s":0.9999,"lo":0.9998,"hi":1},
{"p":7,"g":"TNFI","t":111,"s":0.99983,"lo":0.9996,"hi":1},
{"p":7,"g":"TNFI","t":180,"s":0.9996,"lo":0.9993,"hi":0.9999},
{"p":7,"g":"TNFI","t":251,"s":0.99933,"lo":0.9989,"hi":0.99975},
{"p":7,"g":"TNFI","t":320,"s":0.9991,"lo":0.9986,"hi":0.9996},
{"p":7,"g":"TNFI","t":390,"s":0.99882,"lo":0.9983,"hi":0.9994},
{"p":7,"g":"TNFI","t":450,"s":0.9986,"lo":0.998,"hi":0.9992},
{"p":7,"g":"TNFI","t":502,"s":0.99842,"lo":0.9977,"hi":0.9991},
{"p":7,"g":"TNFI","t":580,"s":0.9982,"lo":0.9975,"hi":0.9989},
{"p":7,"g":"TNFI","t":669,"s":0.99798,"lo":0.9972,"hi":0.9988},
{"p":7,"g":"TNFI","t":750,"s":0.9978,"lo":0.9969,"hi":0.9986},
{"p":7,"g":"TNFI","t":836,"s":0.99747,"lo":0.9965,"hi":0.9984},
{"p":7,"g":"TNFI","t":920,"s":0.9972,"lo":0.9962,"hi":0.9982},
{"p":7,"g":"TNFI","t":1003,"s":0.99707,"lo":0.996,"hi":0.9981},
{"p":7,"g":"TNFI","t":1090,"s":0.9966,"lo":0.9955,"hi":0.9977},
{"p":7,"g":"TNFI","t":1171,"s":0.99612,"lo":0.9949,"hi":0.9973},
{"p":7,"g":"TNFI","t":1250,"s":0.9958,"lo":0.9945,"hi":0.9971},
{"p":7,"g":"TNFI","t":1338,"s":0.99545,"lo":0.9941,"hi":0.9968},
{"p":7,"g":"TNFI","t":1420,"s":0.995,"lo":0.9935,"hi":0.9965},
{"p":7,"g":"TNFI","t":1505,"s":0.9946,"lo":0.993,"hi":0.9962},
{"p":7,"g":"TNFI","t":1590,"s":0.9944,"lo":0.9926,"hi":0.9961},
{"p":7,"g":"TNFI","t":1672,"s":0.99427,"lo":0.9924,"hi":0.9961},
{"p":7,"g":"TNFI","t":1760,"s":0.9938,"lo":0.9918,"hi":0.9958},
{"p":7,"g":"TNFI","t":1839,"s":0.99326,"lo":0.9911,"hi":0.9954},
{"p":7,"g":"TNFI","t":1900,"s":0.9928,"lo":0.9905,"hi":0.9951},
{"p":7,"g":"TNFI","t":1951,"s":0.9924,"lo":0.9899,"hi":0.9948},
{"p":7,"g":"TNFI","t":2007,"s":0.9917,"lo":0.989,"hi":0.9943},
{"p":7,"g":"TNFI","t":2062,"s":0.99103,"lo":0.9882,"hi":0.9938},
{"p":7,"g":"TNFI","t":2120,"s":0.9905,"lo":0.9878,"hi":0.9932},
{"p":7,"g":"TNFI","t":2187,"s":0.99009,"lo":0.9878,"hi":0.9926},
{"p":7,"g":"Methotrexate","t":0,"s":1,"lo":1,"hi":1},
{"p":7,"g":"Methotrexate","t":80,"s":0.99976,"lo":0.9995,"hi":1},
{"p":7,"g":"Methotrexate","t":150,"s":0.9995,"lo":0.9991,"hi":0.9999},
{"p":7,"g":"Methotrexate","t":418,"s":0.99882,"lo":0.9982,"hi":0.9994},
{"p":7,"g":"Methotrexate","t":480,"s":0.9986,"lo":0.9979,"hi":0.9993},
{"p":7,"g":"Methotrexate","t":557,"s":0.99848,"lo":0.9977,"hi":0.9992},
{"p":7,"g":"Methotrexate","t":630,"s":0.9981,"lo":0.9972,"hi":0.9989},
{"p":7,"g":"Methotrexate","t":697,"s":0.99781,"lo":0.9968,"hi":0.9988},
{"p":7,"g":"Methotrexate","t":780,"s":0.99697,"lo":0.9958,"hi":0.9981},
{"p":7,"g":"Methotrexate","t":880,"s":0.9965,"lo":0.9953,"hi":0.9977},
{"p":7,"g":"Methotrexate","t":1003,"s":0.99612,"lo":0.9948,"hi":0.9974},
{"p":7,"g":"Methotrexate","t":1100,"s":0.996,"lo":0.9946,"hi":0.9974},
{"p":7,"g":"Methotrexate","t":1171,"s":0.99579,"lo":0.9943,"hi":0.9972},
{"p":7,"g":"Methotrexate","t":1250,"s":0.9952,"lo":0.9936,"hi":0.9968},
{"p":7,"g":"Methotrexate","t":1338,"s":0.9946,"lo":0.9929,"hi":0.9963},
{"p":7,"g":"Methotrexate","t":1449,"s":0.9941,"lo":0.9922,"hi":0.9959},
{"p":7,"g":"Methotrexate","t":1505,"s":0.99292,"lo":0.9909,"hi":0.995},
{"p":7,"g":"Methotrexate","t":1561,"s":0.99208,"lo":0.9899,"hi":0.9943},
{"p":7,"g":"Methotrexate","t":1650,"s":0.9919,"lo":0.9896,"hi":0.9942},
{"p":7,"g":"Methotrexate","t":1728,"s":0.99174,"lo":0.9893,"hi":0.9941},
{"p":7,"g":"Methotrexate","t":1784,"s":0.9909,"lo":0.9884,"hi":0.9935},
{"p":7,"g":"Methotrexate","t":1839,"s":0.99017,"lo":0.9875,"hi":0.9928},
{"p":7,"g":"Methotrexate","t":1900,"s":0.9897,"lo":0.9869,"hi":0.9924},
{"p":7,"g":"Methotrexate","t":1979,"s":0.98913,"lo":0.9862,"hi":0.992},
{"p":7,"g":"Methotrexate","t":2090,"s":0.98844,"lo":0.9853,"hi":0.9914},
{"p":7,"g":"Methotrexate","t":2180,"s":0.98774,"lo":0.9851,"hi":0.9905},
{"p":7,"g":"Methotrexate","t":2187,"s":0.98774,"lo":0.9851,"hi":0.9905},

{"p":8,"g":"TNFI","t":0,"s":1,"lo":1,"hi":1},
{"p":8,"g":"TNFI","t":45,"s":0.99946,"lo":0.9989,"hi":1},
{"p":8,"g":"TNFI","t":110,"s":0.99861,"lo":0.9977,"hi":0.9995},
{"p":8,"g":"TNFI","t":240,"s":0.99786,"lo":0.9967,"hi":0.999},
{"p":8,"g":"TNFI","t":370,"s":0.99668,"lo":0.9952,"hi":0.9981},
{"p":8,"g":"TNFI","t":499,"s":0.99614,"lo":0.9945,"hi":0.9977},
{"p":8,"g":"TNFI","t":629,"s":0.99518,"lo":0.9933,"hi":0.997},
{"p":8,"g":"TNFI","t":726,"s":0.99432,"lo":0.9922,"hi":0.9964},
{"p":8,"g":"TNFI","t":759,"s":0.99218,"lo":0.9898,"hi":0.9946},
{"p":8,"g":"TNFI","t":824,"s":0.99057,"lo":0.988,"hi":0.9932},
{"p":8,"g":"TNFI","t":953,"s":0.9895,"lo":0.9865,"hi":0.9923},
{"p":8,"g":"TNFI","t":1083,"s":0.98789,"lo":0.9845,"hi":0.991},
{"p":8,"g":"TNFI","t":1213,"s":0.98628,"lo":0.9829,"hi":0.9897},
{"p":8,"g":"TNFI","t":1342,"s":0.98521,"lo":0.9816,"hi":0.9888},
{"p":8,"g":"TNFI","t":1407,"s":0.98307,"lo":0.9792,"hi":0.9869},
{"p":8,"g":"TNFI","t":1602,"s":0.98307,"lo":0.979,"hi":0.987},
{"p":8,"g":"TNFI","t":1667,"s":0.98092,"lo":0.9766,"hi":0.9852},
{"p":8,"g":"TNFI","t":1764,"s":0.97878,"lo":0.9742,"hi":0.9833},
{"p":8,"g":"TNFI","t":1861,"s":0.97824,"lo":0.9735,"hi":0.983},
{"p":8,"g":"TNFI","t":1926,"s":0.97556,"lo":0.9705,"hi":0.9806},
{"p":8,"g":"TNFI","t":2000,"s":0.974,"lo":0.9686,"hi":0.9794},
{"p":8,"g":"TNFI","t":2056,"s":0.97235,"lo":0.9666,"hi":0.9781},
{"p":8,"g":"TNFI","t":2121,"s":0.96913,"lo":0.963,"hi":0.9753},
{"p":8,"g":"TNFI","t":2186,"s":0.96699,"lo":0.9603,"hi":0.9737},
{"p":8,"g":"TNFI","t":2283,"s":0.9657,"lo":0.958,"hi":0.9734},
{"p":8,"g":"TNFI","t":2400,"s":0.964,"lo":0.955,"hi":0.973},
{"p":8,"g":"TNFI","t":2490,"s":0.96249,"lo":0.9525,"hi":0.9729},
{"p":8,"g":"TNFI","t":2500,"s":0.96249,"lo":0.9525,"hi":0.9729},
{"p":8,"g":"Methotrexate","t":0,"s":1,"lo":1,"hi":1},
{"p":8,"g":"Methotrexate","t":240,"s":0.99968,"lo":0.999,"hi":1},
{"p":8,"g":"Methotrexate","t":370,"s":0.99882,"lo":0.9978,"hi":0.9998},
{"p":8,"g":"Methotrexate","t":499,"s":0.99753,"lo":0.996,"hi":0.999},
{"p":8,"g":"Methotrexate","t":694,"s":0.99625,"lo":0.9944,"hi":0.9981},
{"p":8,"g":"Methotrexate","t":824,"s":0.99539,"lo":0.9933,"hi":0.9975},
{"p":8,"g":"Methotrexate","t":953,"s":0.99453,"lo":0.9921,"hi":0.997},
{"p":8,"g":"Methotrexate","t":1083,"s":0.99271,"lo":0.99,"hi":0.9954},
{"p":8,"g":"Methotrexate","t":1213,"s":0.99057,"lo":0.9875,"hi":0.9937},
{"p":8,"g":"Methotrexate","t":1342,"s":0.98842,"lo":0.985,"hi":0.9918},
{"p":8,"g":"Methotrexate","t":1537,"s":0.98789,"lo":0.9842,"hi":0.9916},
{"p":8,"g":"Methotrexate","t":1602,"s":0.98628,"lo":0.9823,"hi":0.9903},
{"p":8,"g":"Methotrexate","t":1732,"s":0.98253,"lo":0.978,"hi":0.9871},
{"p":8,"g":"Methotrexate","t":1861,"s":0.97931,"lo":0.9743,"hi":0.9844},
{"p":8,"g":"Methotrexate","t":1991,"s":0.97663,"lo":0.9712,"hi":0.9821},
{"p":8,"g":"Methotrexate","t":2121,"s":0.97503,"lo":0.9692,"hi":0.981},
{"p":8,"g":"Methotrexate","t":2218,"s":0.97181,"lo":0.9655,"hi":0.9783},
{"p":8,"g":"Methotrexate","t":2316,"s":0.96967,"lo":0.9628,"hi":0.9767},
{"p":8,"g":"Methotrexate","t":2490,"s":0.96645,"lo":0.9563,"hi":0.9766},
{"p":8,"g":"Methotrexate","t":2500,"s":0.96645,"lo":0.9563,"hi":0.9766}
],
"risk": [
{"p":1,"g":"TNFI","t":0,"n":8925},{"p":1,"g":"TNFI","t":250,"n":6136},{"p":1,"g":"TNFI","t":500,"n":4411},{"p":1,"g":"TNFI","t":750,"n":3266},{"p":1,"g":"TNFI","t":1000,"n":2490},{"p":1,"g":"TNFI","t":1250,"n":1942},{"p":1,"g":"TNFI","t":1500,"n":1529},{"p":1,"g":"TNFI","t":1750,"n":1201},{"p":1,"g":"TNFI","t":2000,"n":955},
{"p":1,"g":"Methotrexate","t":0,"n":8925},{"p":1,"g":"Methotrexate","t":250,"n":5938},{"p":1,"g":"Methotrexate","t":500,"n":4269},{"p":1,"g":"Methotrexate","t":750,"n":3157},{"p":1,"g":"Methotrexate","t":1000,"n":2366},{"p":1,"g":"Methotrexate","t":1250,"n":1865},{"p":1,"g":"Methotrexate","t":1500,"n":1467},{"p":1,"g":"Methotrexate","t":1750,"n":1169},{"p":1,"g":"Methotrexate","t":2000,"n":929},
{"p":2,"g":"TNFI","t":0,"n":2125},{"p":2,"g":"TNFI","t":250,"n":1615},{"p":2,"g":"TNFI","t":500,"n":1249},{"p":2,"g":"TNFI","t":750,"n":949},{"p":2,"g":"TNFI","t":1000,"n":759},{"p":2,"g":"TNFI","t":1250,"n":605},{"p":2,"g":"TNFI","t":1500,"n":476},{"p":2,"g":"TNFI","t":1750,"n":387},{"p":2,"g":"TNFI","t":2000,"n":301},{"p":2,"g":"TNFI","t":2250,"n":221},
{"p":2,"g":"Methotrexate","t":0,"n":2125},{"p":2,"g":"Methotrexate","t":250,"n":1659},{"p":2,"g":"Methotrexate","t":500,"n":1309},{"p":2,"g":"Methotrexate","t":750,"n":1026},{"p":2,"g":"Methotrexate","t":1000,"n":836},{"p":2,"g":"Methotrexate","t":1250,"n":667},{"p":2,"g":"Methotrexate","t":1500,"n":551},{"p":2,"g":"Methotrexate","t":1750,"n":455},{"p":2,"g":"Methotrexate","t":2000,"n":358},{"p":2,"g":"Methotrexate","t":2250,"n":298},
{"p":3,"g":"TNFI","t":0,"n":8958},{"p":3,"g":"TNFI","t":250,"n":6177},{"p":3,"g":"TNFI","t":500,"n":4453},{"p":3,"g":"TNFI","t":750,"n":3304},{"p":3,"g":"TNFI","t":1000,"n":2522},{"p":3,"g":"TNFI","t":1250,"n":1971},{"p":3,"g":"TNFI","t":1500,"n":1557},{"p":3,"g":"TNFI","t":1750,"n":1230},{"p":3,"g":"TNFI","t":2000,"n":972},
{"p":3,"g":"Methotrexate","t":0,"n":8958},{"p":3,"g":"Methotrexate","t":250,"n":5969},{"p":3,"g":"Methotrexate","t":500,"n":4303},{"p":3,"g":"Methotrexate","t":750,"n":3184},{"p":3,"g":"Methotrexate","t":1000,"n":2387},{"p":3,"g":"Methotrexate","t":1250,"n":1886},{"p":3,"g":"Methotrexate","t":1500,"n":1492},{"p":3,"g":"Methotrexate","t":1750,"n":1190},{"p":3,"g":"Methotrexate","t":2000,"n":944},
{"p":4,"g":"TNFI","t":0,"n":2143},{"p":4,"g":"TNFI","t":250,"n":1639},{"p":4,"g":"TNFI","t":500,"n":1277},{"p":4,"g":"TNFI","t":750,"n":970},{"p":4,"g":"TNFI","t":1000,"n":779},{"p":4,"g":"TNFI","t":1250,"n":624},{"p":4,"g":"TNFI","t":1500,"n":492},{"p":4,"g":"TNFI","t":1750,"n":400},{"p":4,"g":"TNFI","t":2000,"n":318},{"p":4,"g":"TNFI","t":2250,"n":234},
{"p":4,"g":"Methotrexate","t":0,"n":2143},{"p":4,"g":"Methotrexate","t":250,"n":1681},{"p":4,"g":"Methotrexate","t":500,"n":1331},{"p":4,"g":"Methotrexate","t":750,"n":1049},{"p":4,"g":"Methotrexate","t":1000,"n":855},{"p":4,"g":"Methotrexate","t":1250,"n":680},{"p":4,"g":"Methotrexate","t":1500,"n":560},{"p":4,"g":"Methotrexate","t":1750,"n":459},{"p":4,"g":"Methotrexate","t":2000,"n":365},{"p":4,"g":"Methotrexate","t":2250,"n":306},
{"p":5,"g":"TNFI","t":0,"n":29079},{"p":5,"g":"TNFI","t":250,"n":21086},{"p":5,"g":"TNFI","t":500,"n":15682},{"p":5,"g":"TNFI","t":750,"n":11995},{"p":5,"g":"TNFI","t":1000,"n":9338},{"p":5,"g":"TNFI","t":1250,"n":7414},{"p":5,"g":"TNFI","t":1500,"n":5904},{"p":5,"g":"TNFI","t":1750,"n":4810},{"p":5,"g":"TNFI","t":2000,"n":3877},
{"p":5,"g":"Methotrexate","t":0,"n":29079},{"p":5,"g":"Methotrexate","t":250,"n":19319},{"p":5,"g":"Methotrexate","t":500,"n":13917},{"p":5,"g":"Methotrexate","t":750,"n":10421},{"p":5,"g":"Methotrexate","t":1000,"n":7832},{"p":5,"g":"Methotrexate","t":1250,"n":6089},{"p":5,"g":"Methotrexate","t":1500,"n":4748},{"p":5,"g":"Methotrexate","t":1750,"n":3846},{"p":5,"g":"Methotrexate","t":2000,"n":3076},
{"p":6,"g":"TNFI","t":0,"n":5414},{"p":6,"g":"TNFI","t":250,"n":4256},{"p":6,"g":"TNFI","t":500,"n":3375},{"p":6,"g":"TNFI","t":750,"n":2680},{"p":6,"g":"TNFI","t":1000,"n":2179},{"p":6,"g":"TNFI","t":1250,"n":1754},{"p":6,"g":"TNFI","t":1500,"n":1403},{"p":6,"g":"TNFI","t":1750,"n":1155},{"p":6,"g":"TNFI","t":2000,"n":927},{"p":6,"g":"TNFI","t":2250,"n":719},{"p":6,"g":"TNFI","t":2500,"n":561},
{"p":6,"g":"Methotrexate","t":0,"n":5414},{"p":6,"g":"Methotrexate","t":250,"n":4145},{"p":6,"g":"Methotrexate","t":500,"n":3270},{"p":6,"g":"Methotrexate","t":750,"n":2593},{"p":6,"g":"Methotrexate","t":1000,"n":2139},{"p":6,"g":"Methotrexate","t":1250,"n":1725},{"p":6,"g":"Methotrexate","t":1500,"n":1410},{"p":6,"g":"Methotrexate","t":1750,"n":1175},{"p":6,"g":"Methotrexate","t":2000,"n":917},{"p":6,"g":"Methotrexate","t":2250,"n":735},{"p":6,"g":"Methotrexate","t":2500,"n":564},
{"p":7,"g":"TNFI","t":0,"n":29180},{"p":7,"g":"TNFI","t":250,"n":21192},{"p":7,"g":"TNFI","t":500,"n":15780},{"p":7,"g":"TNFI","t":750,"n":12086},{"p":7,"g":"TNFI","t":1000,"n":9419},{"p":7,"g":"TNFI","t":1250,"n":7502},{"p":7,"g":"TNFI","t":1500,"n":5986},{"p":7,"g":"TNFI","t":1750,"n":4882},{"p":7,"g":"TNFI","t":2000,"n":3935},
{"p":7,"g":"Methotrexate","t":0,"n":29180},{"p":7,"g":"Methotrexate","t":250,"n":19421},{"p":7,"g":"Methotrexate","t":500,"n":14023},{"p":7,"g":"Methotrexate","t":750,"n":10515},{"p":7,"g":"Methotrexate","t":1000,"n":7919},{"p":7,"g":"Methotrexate","t":1250,"n":6162},{"p":7,"g":"Methotrexate","t":1500,"n":4817},{"p":7,"g":"Methotrexate","t":1750,"n":3917},{"p":7,"g":"Methotrexate","t":2000,"n":3136},
{"p":8,"g":"TNFI","t":0,"n":5467},{"p":8,"g":"TNFI","t":250,"n":4313},{"p":8,"g":"TNFI","t":500,"n":3446},{"p":8,"g":"TNFI","t":750,"n":2741},{"p":8,"g":"TNFI","t":1000,"n":2234},{"p":8,"g":"TNFI","t":1250,"n":1798},{"p":8,"g":"TNFI","t":1500,"n":1442},{"p":8,"g":"TNFI","t":1750,"n":1186},{"p":8,"g":"TNFI","t":2000,"n":957},{"p":8,"g":"TNFI","t":2250,"n":743},{"p":8,"g":"TNFI","t":2500,"n":582},
{"p":8,"g":"Methotrexate","t":0,"n":5467},{"p":8,"g":"Methotrexate","t":250,"n":4203},{"p":8,"g":"Methotrexate","t":500,"n":3320},{"p":8,"g":"Methotrexate","t":750,"n":2639},{"p":8,"g":"Methotrexate","t":1000,"n":2183},{"p":8,"g":"Methotrexate","t":1250,"n":1764},{"p":8,"g":"Methotrexate","t":1500,"n":1435},{"p":8,"g":"Methotrexate","t":1750,"n":1196},{"p":8,"g":"Methotrexate","t":2000,"n":945},{"p":8,"g":"Methotrexate","t":2250,"n":772},{"p":8,"g":"Methotrexate","t":2500,"n":585}
]
},
"spacing": 33,
"vconcat": [
{
 "title": {"text": "RA patients", "orient": "left", "anchor": "middle", "font": "Liberation Sans", "fontSize": 16, "fontWeight": "bold", "offset": 26},
 "spacing": 25,
 "vconcat": [
  {"spacing": 14, "hconcat": [
   {"title": {"text": "Optum", "fontSize": 14, "anchor": "middle", "frame": "bounds", "dx": 30, "offset": 10}, "spacing": 0, "vconcat": [
    {"width": 287, "height": 164, "view": {"fill": "#EBEBEB", "stroke": null},
     "title": {"text": "Dementia", "orient": "left", "fontSize": 8.5, "offset": 8},
     "data": {"name": "km"}, "transform": [{"filter": "datum.p === 1"}],
     "encoding": {
      "x": {"field": "t", "type": "quantitative", "title": "Time in days", "scale": {"domain": [-154, 2152], "nice": false, "zero": false},
        "axis": {"values": [-125,0,125,250,375,500,625,750,875,1000,1125,1250,1375,1500,1625,1750,1875,2000,2125], "format": "d",
          "labelExpr": "datum.value % 250 === 0 && datum.value >= 0 && datum.value <= 2000 ? datum.label : ''",
          "gridWidth": {"condition": {"test": "datum.value % 250 === 0 && datum.value >= 0 && datum.value <= 2000", "value": 1}, "value": 0.45},
          "tickColor": {"condition": {"test": "datum.value % 250 === 0 && datum.value >= 0 && datum.value <= 2000", "value": "#333333"}, "value": "rgba(0,0,0,0)"}}},
      "color": {"field": "g", "type": "nominal", "title": null, "scale": {"domain": ["TNFI", "Methotrexate"], "range": ["#E3191C", "#1A1AD9"]},
        "legend": {"symbolType": "M-1,-0.7H1V0.7H-1Z M-1,0H1", "encode": {"symbols": {"update": {"fill": {"scale": "color", "field": "value"}, "fillOpacity": {"value": 0.4}, "stroke": {"scale": "color", "field": "value"}, "strokeWidth": {"value": 1.5}, "opacity": {"value": 1}}}}}}
     },
     "layer": [
      {"mark": {"type": "area", "interpolate": "step-after", "opacity": 0.38, "clip": true},
       "encoding": {"y": {"field": "lo", "type": "quantitative", "title": "Survival probability", "scale": {"domain": [0.9467, 1.003], "nice": false, "zero": false},
         "axis": {"values": [0.95,0.955,0.96,0.965,0.97,0.975,0.98,0.985,0.99,0.995,1], "labelExpr": "abs(datum.value*100-round(datum.value*100))<0.001 ? format(datum.value,'.2f') : ''",
           "gridWidth": {"condition": {"test": "abs(datum.value*100-round(datum.value*100))<0.001", "value": 1}, "value": 0.45},
           "tickColor": {"condition": {"test": "abs(datum.value*100-round(datum.value*100))<0.001", "value": "#333333"}, "value": "rgba(0,0,0,0)"}}},
        "y2": {"field": "hi"}}},
      {"mark": {"type": "line", "interpolate": "step-after", "strokeWidth": 1.3, "clip": true},
       "encoding": {"y": {"field": "s", "type": "quantitative", "title": "Survival probability", "scale": {"domain": [0.9467, 1.003], "nice": false, "zero": false},
         "axis": {"values": [0.95,0.955,0.96,0.965,0.97,0.975,0.98,0.985,0.99,0.995,1], "labelExpr": "abs(datum.value*100-round(datum.value*100))<0.001 ? format(datum.value,'.2f') : ''",
           "gridWidth": {"condition": {"test": "abs(datum.value*100-round(datum.value*100))<0.001", "value": 1}, "value": 0.45},
           "tickColor": {"condition": {"test": "abs(datum.value*100-round(datum.value*100))<0.001", "value": "#333333"}, "value": "rgba(0,0,0,0)"}}}}}
     ]},
    {"width": 287, "height": 27, "data": {"name": "risk"}, "transform": [{"filter": "datum.p === 1"}],
     "mark": {"type": "text", "fontSize": 6.5, "color": "#1a1a1a", "font": "Liberation Sans"},
     "encoding": {
      "x": {"field": "t", "type": "quantitative", "scale": {"domain": [-154, 2152], "nice": false, "zero": false}, "axis": null},
      "y": {"field": "g", "type": "nominal", "scale": {"domain": ["Number at risk", "TNFI", "Methotrexate"]},
        "axis": {"title": null, "ticks": false, "grid": false, "domain": false, "labelAlign": "left",
          "labelPadding": {"condition": {"test": "datum.value === 'Number at risk'", "value": 45}, "value": 38},
          "labelColor": {"condition": {"test": "datum.value === 'Number at risk'", "value": "#555555"}, "value": "#1a1a1a"},
          "labelFontSize": {"condition": {"test": "datum.value === 'Number at risk'", "value": 6}, "value": 6.5}}},
      "text": {"field": "n", "type": "quantitative", "format": ","}}}
   ]},
   {"title": {"text": "MDCR", "fontSize": 14, "anchor": "middle", "frame": "bounds", "dx": 12, "offset": 10}, "spacing": 0, "vconcat": [
    {"width": 287, "height": 164, "view": {"fill": "#EBEBEB", "stroke": null},
     "data": {"name": "km"}, "transform": [{"filter": "datum.p === 2"}],
     "encoding": {
      "x": {"field": "t", "type": "quantitative", "title": "Time in days", "scale": {"domain": [-176, 2369], "nice": false, "zero": false},
        "axis": {"values": [-125,0,125,250,375,500,625,750,875,1000,1125,1250,1375,1500,1625,1750,1875,2000,2125,2250], "format": "d",
          "labelExpr": "datum.value % 250 === 0 && datum.value >= 0 && datum.value <= 2250 ? datum.label : ''",
          "gridWidth": {"condition": {"test": "datum.value % 250 === 0 && datum.value >= 0 && datum.value <= 2250", "value": 1}, "value": 0.45},
          "tickColor": {"condition": {"test": "datum.value % 250 === 0 && datum.value >= 0 && datum.value <= 2250", "value": "#333333"}, "value": "rgba(0,0,0,0)"}}},
      "color": {"field": "g", "type": "nominal", "title": null, "scale": {"domain": ["TNFI", "Methotrexate"], "range": ["#E3191C", "#1A1AD9"]}}
     },
     "layer": [
      {"mark": {"type": "area", "interpolate": "step-after", "opacity": 0.38, "clip": true},
       "encoding": {"y": {"field": "lo", "type": "quantitative", "title": null, "scale": {"domain": [0.8831, 1.0056], "nice": false, "zero": false},
         "axis": {"values": [0.8875,0.9,0.9125,0.925,0.9375,0.95,0.9625,0.975,0.9875,1], "labelExpr": "abs(datum.value*40-round(datum.value*40))<0.001 ? format(datum.value,'.3f') : ''",
           "gridWidth": {"condition": {"test": "abs(datum.value*40-round(datum.value*40))<0.001", "value": 1}, "value": 0.45},
           "tickColor": {"condition": {"test": "abs(datum.value*40-round(datum.value*40))<0.001", "value": "#333333"}, "value": "rgba(0,0,0,0)"}}},
        "y2": {"field": "hi"}}},
      {"mark": {"type": "line", "interpolate": "step-after", "strokeWidth": 1.3, "clip": true},
       "encoding": {"y": {"field": "s", "type": "quantitative", "title": null, "scale": {"domain": [0.8831, 1.0056], "nice": false, "zero": false},
         "axis": {"values": [0.8875,0.9,0.9125,0.925,0.9375,0.95,0.9625,0.975,0.9875,1], "labelExpr": "abs(datum.value*40-round(datum.value*40))<0.001 ? format(datum.value,'.3f') : ''",
           "gridWidth": {"condition": {"test": "abs(datum.value*40-round(datum.value*40))<0.001", "value": 1}, "value": 0.45},
           "tickColor": {"condition": {"test": "abs(datum.value*40-round(datum.value*40))<0.001", "value": "#333333"}, "value": "rgba(0,0,0,0)"}}}}}
     ]},
    {"width": 287, "height": 27, "data": {"name": "risk"}, "transform": [{"filter": "datum.p === 2"}],
     "mark": {"type": "text", "fontSize": 6.5, "color": "#1a1a1a", "font": "Liberation Sans"},
     "encoding": {
      "x": {"field": "t", "type": "quantitative", "scale": {"domain": [-176, 2369], "nice": false, "zero": false}, "axis": null},
      "y": {"field": "g", "type": "nominal", "scale": {"domain": ["Number at risk", "TNFI", "Methotrexate"]}, "axis": null},
      "text": {"field": "n", "type": "quantitative", "format": ","}}}
   ]}
  ]},
  {"spacing": 14, "hconcat": [
   {"spacing": 1, "vconcat": [
    {"width": 287, "height": 162, "view": {"fill": "#EBEBEB", "stroke": null},
     "title": {"text": "Alzheimer's disease", "orient": "left", "fontSize": 8.5, "offset": 8},
     "data": {"name": "km"}, "transform": [{"filter": "datum.p === 3"}],
     "encoding": {
      "x": {"field": "t", "type": "quantitative", "title": "Time in days", "scale": {"domain": [-162, 2160], "nice": false, "zero": false},
        "axis": {"values": [-125,0,125,250,375,500,625,750,875,1000,1125,1250,1375,1500,1625,1750,1875,2000,2125], "format": "d",
          "labelExpr": "datum.value % 250 === 0 && datum.value >= 0 && datum.value <= 2000 ? datum.label : ''",
          "gridWidth": {"condition": {"test": "datum.value % 250 === 0 && datum.value >= 0 && datum.value <= 2000", "value": 1}, "value": 0.45},
          "tickColor": {"condition": {"test": "datum.value % 250 === 0 && datum.value >= 0 && datum.value <= 2000", "value": "#333333"}, "value": "rgba(0,0,0,0)"}}},
      "color": {"field": "g", "type": "nominal", "title": null, "scale": {"domain": ["TNFI", "Methotrexate"], "range": ["#E3191C", "#1A1AD9"]}}
     },
     "layer": [
      {"mark": {"type": "area", "interpolate": "step-after", "opacity": 0.38, "clip": true},
       "encoding": {"y": {"field": "lo", "type": "quantitative", "title": "Survival probability", "scale": {"domain": [0.97816, 1.00105], "nice": false, "zero": false},
         "axis": {"values": [0.98,0.9825,0.985,0.9875,0.99,0.9925,0.995,0.9975,1], "labelExpr": "abs(datum.value*200-round(datum.value*200))<0.001 ? format(datum.value,'.3f') : ''",
           "gridWidth": {"condition": {"test": "abs(datum.value*200-round(datum.value*200))<0.001", "value": 1}, "value": 0.45},
           "tickColor": {"condition": {"test": "abs(datum.value*200-round(datum.value*200))<0.001", "value": "#333333"}, "value": "rgba(0,0,0,0)"}}},
        "y2": {"field": "hi"}}},
      {"mark": {"type": "line", "interpolate": "step-after", "strokeWidth": 1.3, "clip": true},
       "encoding": {"y": {"field": "s", "type": "quantitative", "title": "Survival probability", "scale": {"domain": [0.97816, 1.00105], "nice": false, "zero": false},
         "axis": {"values": [0.98,0.9825,0.985,0.9875,0.99,0.9925,0.995,0.9975,1], "labelExpr": "abs(datum.value*200-round(datum.value*200))<0.001 ? format(datum.value,'.3f') : ''",
           "gridWidth": {"condition": {"test": "abs(datum.value*200-round(datum.value*200))<0.001", "value": 1}, "value": 0.45},
           "tickColor": {"condition": {"test": "abs(datum.value*200-round(datum.value*200))<0.001", "value": "#333333"}, "value": "rgba(0,0,0,0)"}}}}}
     ]},
    {"width": 287, "height": 29, "data": {"name": "risk"}, "transform": [{"filter": "datum.p === 3"}],
     "mark": {"type": "text", "fontSize": 6.5, "color": "#1a1a1a", "font": "Liberation Sans"},
     "encoding": {
      "x": {"field": "t", "type": "quantitative", "scale": {"domain": [-162, 2160], "nice": false, "zero": false}, "axis": null},
      "y": {"field": "g", "type": "nominal", "scale": {"domain": ["Number at risk", "TNFI", "Methotrexate"]},
        "axis": {"title": null, "ticks": false, "grid": false, "domain": false, "labelAlign": "left",
          "labelPadding": {"condition": {"test": "datum.value === 'Number at risk'", "value": 45}, "value": 38},
          "labelColor": {"condition": {"test": "datum.value === 'Number at risk'", "value": "#555555"}, "value": "#1a1a1a"},
          "labelFontSize": {"condition": {"test": "datum.value === 'Number at risk'", "value": 6}, "value": 6.5}}},
      "text": {"field": "n", "type": "quantitative", "format": ","}}}
   ]},
   {"spacing": 1, "vconcat": [
    {"width": 287, "height": 162, "view": {"fill": "#EBEBEB", "stroke": null},
     "data": {"name": "km"}, "transform": [{"filter": "datum.p === 4"}],
     "encoding": {
      "x": {"field": "t", "type": "quantitative", "title": "Time in days", "scale": {"domain": [-185, 2554], "nice": false, "zero": false},
        "axis": {"values": [-125,0,125,250,375,500,625,750,875,1000,1125,1250,1375,1500,1625,1750,1875,2000,2125,2250,2375,2500], "format": "d",
          "labelExpr": "datum.value % 250 === 0 && datum.value >= 0 && datum.value <= 2250 ? datum.label : ''",
          "gridWidth": {"condition": {"test": "datum.value % 250 === 0 && datum.value >= 0 && datum.value <= 2250", "value": 1}, "value": 0.45},
          "tickColor": {"condition": {"test": "datum.value % 250 === 0 && datum.value >= 0 && datum.value <= 2250", "value": "#333333"}, "value": "rgba(0,0,0,0)"}}},
      "color": {"field": "g", "type": "nominal", "title": null, "scale": {"domain": ["TNFI", "Methotrexate"], "range": ["#E3191C", "#1A1AD9"]}}
     },
     "layer": [
      {"mark": {"type": "area", "interpolate": "step-after", "opacity": 0.38, "clip": true},
       "encoding": {"y": {"field": "lo", "type": "quantitative", "title": null, "scale": {"domain": [0.943, 1.00285], "nice": false, "zero": false},
         "axis": {"values": [0.95,0.96,0.97,0.98,0.99,1], "labelExpr": "abs(datum.value*50-round(datum.value*50))<0.001 ? format(datum.value,'.2f') : ''",
           "gridWidth": {"condition": {"test": "abs(datum.value*50-round(datum.value*50))<0.001", "value": 1}, "value": 0.45},
           "tickColor": {"condition": {"test": "abs(datum.value*50-round(datum.value*50))<0.001", "value": "#333333"}, "value": "rgba(0,0,0,0)"}}},
        "y2": {"field": "hi"}}},
      {"mark": {"type": "line", "interpolate": "step-after", "strokeWidth": 1.3, "clip": true},
       "encoding": {"y": {"field": "s", "type": "quantitative", "title": null, "scale": {"domain": [0.943, 1.00285], "nice": false, "zero": false},
         "axis": {"values": [0.95,0.96,0.97,0.98,0.99,1], "labelExpr": "abs(datum.value*50-round(datum.value*50))<0.001 ? format(datum.value,'.2f') : ''",
           "gridWidth": {"condition": {"test": "abs(datum.value*50-round(datum.value*50))<0.001", "value": 1}, "value": 0.45},
           "tickColor": {"condition": {"test": "abs(datum.value*50-round(datum.value*50))<0.001", "value": "#333333"}, "value": "rgba(0,0,0,0)"}}}}}
     ]},
    {"width": 287, "height": 29, "data": {"name": "risk"}, "transform": [{"filter": "datum.p === 4"}],
     "mark": {"type": "text", "fontSize": 6.5, "color": "#1a1a1a", "font": "Liberation Sans"},
     "encoding": {
      "x": {"field": "t", "type": "quantitative", "scale": {"domain": [-185, 2554], "nice": false, "zero": false}, "axis": null},
      "y": {"field": "g", "type": "nominal", "scale": {"domain": ["Number at risk", "TNFI", "Methotrexate"]}, "axis": null},
      "text": {"field": "n", "type": "quantitative", "format": ","}}}
   ]}
  ]}
 ]
},
{
 "title": {"text": "All patients", "orient": "left", "anchor": "middle", "font": "Liberation Sans", "fontSize": 16, "fontWeight": "bold", "offset": 26},
 "spacing": 26,
 "vconcat": [
  {"spacing": 14, "hconcat": [
   {"spacing": 6, "vconcat": [
    {"width": 287, "height": 162, "view": {"fill": "#EBEBEB", "stroke": null},
     "title": {"text": "Dementia", "orient": "left", "fontSize": 8.5, "offset": 8},
     "data": {"name": "km"}, "transform": [{"filter": "datum.p === 5"}],
     "encoding": {
      "x": {"field": "t", "type": "quantitative", "title": "Time in days", "scale": {"domain": [-167, 2259], "nice": false, "zero": false},
        "axis": {"titlePadding": 4, "values": [-125,0,125,250,375,500,625,750,875,1000,1125,1250,1375,1500,1625,1750,1875,2000,2125,2250], "format": "d",
          "labelExpr": "datum.value % 250 === 0 && datum.value >= 0 && datum.value <= 2000 ? datum.label : ''",
          "gridWidth": {"condition": {"test": "datum.value % 250 === 0 && datum.value >= 0 && datum.value <= 2000", "value": 1}, "value": 0.45},
          "tickColor": {"condition": {"test": "datum.value % 250 === 0 && datum.value >= 0 && datum.value <= 2000", "value": "#333333"}, "value": "rgba(0,0,0,0)"}}},
      "color": {"field": "g", "type": "nominal", "title": null, "scale": {"domain": ["TNFI", "Methotrexate"], "range": ["#E3191C", "#1A1AD9"]}}
     },
     "layer": [
      {"mark": {"type": "area", "interpolate": "step-after", "opacity": 0.38, "clip": true},
       "encoding": {"y": {"field": "lo", "type": "quantitative", "title": "Survival probability", "scale": {"domain": [0.96406, 1.00169], "nice": false, "zero": false},
         "axis": {"values": [0.965,0.97,0.975,0.98,0.985,0.99,0.995,1], "labelExpr": "abs(datum.value*100-round(datum.value*100))<0.001 ? format(datum.value,'.2f') : ''",
           "gridWidth": {"condition": {"test": "abs(datum.value*100-round(datum.value*100))<0.001", "value": 1}, "value": 0.45},
           "tickColor": {"condition": {"test": "abs(datum.value*100-round(datum.value*100))<0.001", "value": "#333333"}, "value": "rgba(0,0,0,0)"}}},
        "y2": {"field": "hi"}}},
      {"mark": {"type": "line", "interpolate": "step-after", "strokeWidth": 1.3, "clip": true},
       "encoding": {"y": {"field": "s", "type": "quantitative", "title": "Survival probability", "scale": {"domain": [0.96406, 1.00169], "nice": false, "zero": false},
         "axis": {"values": [0.965,0.97,0.975,0.98,0.985,0.99,0.995,1], "labelExpr": "abs(datum.value*100-round(datum.value*100))<0.001 ? format(datum.value,'.2f') : ''",
           "gridWidth": {"condition": {"test": "abs(datum.value*100-round(datum.value*100))<0.001", "value": 1}, "value": 0.45},
           "tickColor": {"condition": {"test": "abs(datum.value*100-round(datum.value*100))<0.001", "value": "#333333"}, "value": "rgba(0,0,0,0)"}}}}}
     ]},
    {"width": 287, "height": 26, "data": {"name": "risk"}, "transform": [{"filter": "datum.p === 5"}],
     "mark": {"type": "text", "fontSize": 6.5, "color": "#1a1a1a", "font": "Liberation Sans"},
     "encoding": {
      "x": {"field": "t", "type": "quantitative", "scale": {"domain": [-167, 2259], "nice": false, "zero": false}, "axis": null},
      "y": {"field": "g", "type": "nominal", "scale": {"domain": ["Number at risk", "TNFI", "Methotrexate"]},
        "axis": {"title": null, "ticks": false, "grid": false, "domain": false, "labelAlign": "left",
          "labelPadding": {"condition": {"test": "datum.value === 'Number at risk'", "value": 48}, "value": 42},
          "labelColor": {"condition": {"test": "datum.value === 'Number at risk'", "value": "#555555"}, "value": "#1a1a1a"},
          "labelFontSize": {"condition": {"test": "datum.value === 'Number at risk'", "value": 6}, "value": 6.5}}},
      "text": {"field": "n", "type": "quantitative", "format": ","}}}
   ]},
   {"spacing": 6, "vconcat": [
    {"width": 287, "height": 162, "view": {"fill": "#EBEBEB", "stroke": null},
     "data": {"name": "km"}, "transform": [{"filter": "datum.p === 6"}],
     "encoding": {
      "x": {"field": "t", "type": "quantitative", "title": "Time in days", "scale": {"domain": [-207, 2664], "nice": false, "zero": false},
        "axis": {"titlePadding": 4, "values": [-125,0,125,250,375,500,625,750,875,1000,1125,1250,1375,1500,1625,1750,1875,2000,2125,2250,2375,2500,2625], "format": "d",
          "labelExpr": "datum.value % 250 === 0 && datum.value >= 0 && datum.value <= 2500 ? datum.label : ''",
          "gridWidth": {"condition": {"test": "datum.value % 250 === 0 && datum.value >= 0 && datum.value <= 2500", "value": 1}, "value": 0.45},
          "tickColor": {"condition": {"test": "datum.value % 250 === 0 && datum.value >= 0 && datum.value <= 2500", "value": "#333333"}, "value": "rgba(0,0,0,0)"}}},
      "color": {"field": "g", "type": "nominal", "title": null, "scale": {"domain": ["TNFI", "Methotrexate"], "range": ["#E3191C", "#1A1AD9"]}}
     },
     "layer": [
      {"mark": {"type": "area", "interpolate": "step-after", "opacity": 0.38, "clip": true},
       "encoding": {"y": {"field": "lo", "type": "quantitative", "title": null, "scale": {"domain": [0.8829, 1.0055], "nice": false, "zero": false},
         "axis": {"values": [0.9,0.92,0.94,0.96,0.98,1], "labelExpr": "abs(datum.value*25-round(datum.value*25))<0.001 ? format(datum.value,'.2f') : ''",
           "gridWidth": {"condition": {"test": "abs(datum.value*25-round(datum.value*25))<0.001", "value": 1}, "value": 0.45},
           "tickColor": {"condition": {"test": "abs(datum.value*25-round(datum.value*25))<0.001", "value": "#333333"}, "value": "rgba(0,0,0,0)"}}},
        "y2": {"field": "hi"}}},
      {"mark": {"type": "line", "interpolate": "step-after", "strokeWidth": 1.3, "clip": true},
       "encoding": {"y": {"field": "s", "type": "quantitative", "title": null, "scale": {"domain": [0.8829, 1.0055], "nice": false, "zero": false},
         "axis": {"values": [0.9,0.92,0.94,0.96,0.98,1], "labelExpr": "abs(datum.value*25-round(datum.value*25))<0.001 ? format(datum.value,'.2f') : ''",
           "gridWidth": {"condition": {"test": "abs(datum.value*25-round(datum.value*25))<0.001", "value": 1}, "value": 0.45},
           "tickColor": {"condition": {"test": "abs(datum.value*25-round(datum.value*25))<0.001", "value": "#333333"}, "value": "rgba(0,0,0,0)"}}}}}
     ]},
    {"width": 287, "height": 26, "data": {"name": "risk"}, "transform": [{"filter": "datum.p === 6"}],
     "mark": {"type": "text", "fontSize": 6.5, "color": "#1a1a1a", "font": "Liberation Sans"},
     "encoding": {
      "x": {"field": "t", "type": "quantitative", "scale": {"domain": [-207, 2664], "nice": false, "zero": false}, "axis": null},
      "y": {"field": "g", "type": "nominal", "scale": {"domain": ["Number at risk", "TNFI", "Methotrexate"]}, "axis": null},
      "text": {"field": "n", "type": "quantitative", "format": ","}}}
   ]}
  ]},
  {"spacing": 14, "hconcat": [
   {"spacing": 1, "vconcat": [
    {"width": 287, "height": 162, "view": {"fill": "#EBEBEB", "stroke": null},
     "title": {"text": "Alzheimer's disease", "orient": "left", "fontSize": 8.5, "offset": 8},
     "data": {"name": "km"}, "transform": [{"filter": "datum.p === 7"}],
     "encoding": {
      "x": {"field": "t", "type": "quantitative", "title": "Time in days", "scale": {"domain": [-173, 2300], "nice": false, "zero": false},
        "axis": {"titlePadding": 4, "values": [-125,0,125,250,375,500,625,750,875,1000,1125,1250,1375,1500,1625,1750,1875,2000,2125,2250], "format": "d",
          "labelExpr": "datum.value % 250 === 0 && datum.value >= 0 && datum.value <= 2000 ? datum.label : ''",
          "gridWidth": {"condition": {"test": "datum.value % 250 === 0 && datum.value >= 0 && datum.value <= 2000", "value": 1}, "value": 0.45},
          "tickColor": {"condition": {"test": "datum.value % 250 === 0 && datum.value >= 0 && datum.value <= 2000", "value": "#333333"}, "value": "rgba(0,0,0,0)"}}},
      "color": {"field": "g", "type": "nominal", "title": null, "scale": {"domain": ["TNFI", "Methotrexate"], "range": ["#E3191C", "#1A1AD9"]}}
     },
     "layer": [
      {"mark": {"type": "area", "interpolate": "step-after", "opacity": 0.38, "clip": true},
       "encoding": {"y": {"field": "lo", "type": "quantitative", "title": "Survival probability", "scale": {"domain": [0.98432, 1.00079], "nice": false, "zero": false},
         "axis": {"values": [0.985,0.9875,0.99,0.9925,0.995,0.9975,1], "labelExpr": "abs(datum.value*200-round(datum.value*200))<0.001 ? format(datum.value,'.3f') : ''",
           "gridWidth": {"condition": {"test": "abs(datum.value*200-round(datum.value*200))<0.001", "value": 1}, "value": 0.45},
           "tickColor": {"condition": {"test": "abs(datum.value*200-round(datum.value*200))<0.001", "value": "#333333"}, "value": "rgba(0,0,0,0)"}}},
        "y2": {"field": "hi"}}},
      {"mark": {"type": "line", "interpolate": "step-after", "strokeWidth": 1.3, "clip": true},
       "encoding": {"y": {"field": "s", "type": "quantitative", "title": "Survival probability", "scale": {"domain": [0.98432, 1.00079], "nice": false, "zero": false},
         "axis": {"values": [0.985,0.9875,0.99,0.9925,0.995,0.9975,1], "labelExpr": "abs(datum.value*200-round(datum.value*200))<0.001 ? format(datum.value,'.3f') : ''",
           "gridWidth": {"condition": {"test": "abs(datum.value*200-round(datum.value*200))<0.001", "value": 1}, "value": 0.45},
           "tickColor": {"condition": {"test": "abs(datum.value*200-round(datum.value*200))<0.001", "value": "#333333"}, "value": "rgba(0,0,0,0)"}}}}}
     ]},
    {"width": 287, "height": 25, "data": {"name": "risk"}, "transform": [{"filter": "datum.p === 7"}],
     "mark": {"type": "text", "fontSize": 6.5, "color": "#1a1a1a", "font": "Liberation Sans"},
     "encoding": {
      "x": {"field": "t", "type": "quantitative", "scale": {"domain": [-173, 2300], "nice": false, "zero": false}, "axis": null},
      "y": {"field": "g", "type": "nominal", "scale": {"domain": ["Number at risk", "TNFI", "Methotrexate"]},
        "axis": {"title": null, "ticks": false, "grid": false, "domain": false, "labelAlign": "left",
          "labelPadding": {"condition": {"test": "datum.value === 'Number at risk'", "value": 48}, "value": 42},
          "labelColor": {"condition": {"test": "datum.value === 'Number at risk'", "value": "#555555"}, "value": "#1a1a1a"},
          "labelFontSize": {"condition": {"test": "datum.value === 'Number at risk'", "value": 6}, "value": 6.5}}},
      "text": {"field": "n", "type": "quantitative", "format": ","}}}
   ]},
   {"spacing": 1, "vconcat": [
    {"width": 287, "height": 162, "view": {"fill": "#EBEBEB", "stroke": null},
     "data": {"name": "km"}, "transform": [{"filter": "datum.p === 8"}],
     "encoding": {
      "x": {"field": "t", "type": "quantitative", "title": "Time in days", "scale": {"domain": [-214, 2640], "nice": false, "zero": false},
        "axis": {"titlePadding": 4, "values": [-125,0,125,250,375,500,625,750,875,1000,1125,1250,1375,1500,1625,1750,1875,2000,2125,2250,2375,2500,2625], "format": "d",
          "labelExpr": "datum.value % 250 === 0 && datum.value >= 0 && datum.value <= 2500 ? datum.label : ''",
          "gridWidth": {"condition": {"test": "datum.value % 250 === 0 && datum.value >= 0 && datum.value <= 2500", "value": 1}, "value": 0.45},
          "tickColor": {"condition": {"test": "datum.value % 250 === 0 && datum.value >= 0 && datum.value <= 2500", "value": "#333333"}, "value": "rgba(0,0,0,0)"}}},
      "color": {"field": "g", "type": "nominal", "title": null, "scale": {"domain": ["TNFI", "Methotrexate"], "range": ["#E3191C", "#1A1AD9"]}}
     },
     "layer": [
      {"mark": {"type": "area", "interpolate": "step-after", "opacity": 0.38, "clip": true},
       "encoding": {"y": {"field": "lo", "type": "quantitative", "title": null, "scale": {"domain": [0.95035, 1.00267], "nice": false, "zero": false},
         "axis": {"values": [0.955,0.96,0.965,0.97,0.975,0.98,0.985,0.99,0.995,1], "labelExpr": "abs(datum.value*100-round(datum.value*100))<0.001 ? format(datum.value,'.2f') : ''",
           "gridWidth": {"condition": {"test": "abs(datum.value*100-round(datum.value*100))<0.001", "value": 1}, "value": 0.45},
           "tickColor": {"condition": {"test": "abs(datum.value*100-round(datum.value*100))<0.001", "value": "#333333"}, "value": "rgba(0,0,0,0)"}}},
        "y2": {"field": "hi"}}},
      {"mark": {"type": "line", "interpolate": "step-after", "strokeWidth": 1.3, "clip": true},
       "encoding": {"y": {"field": "s", "type": "quantitative", "title": null, "scale": {"domain": [0.95035, 1.00267], "nice": false, "zero": false},
         "axis": {"values": [0.955,0.96,0.965,0.97,0.975,0.98,0.985,0.99,0.995,1], "labelExpr": "abs(datum.value*100-round(datum.value*100))<0.001 ? format(datum.value,'.2f') : ''",
           "gridWidth": {"condition": {"test": "abs(datum.value*100-round(datum.value*100))<0.001", "value": 1}, "value": 0.45},
           "tickColor": {"condition": {"test": "abs(datum.value*100-round(datum.value*100))<0.001", "value": "#333333"}, "value": "rgba(0,0,0,0)"}}}}}
     ]},
    {"width": 287, "height": 25, "data": {"name": "risk"}, "transform": [{"filter": "datum.p === 8"}],
     "mark": {"type": "text", "fontSize": 6.5, "color": "#1a1a1a", "font": "Liberation Sans"},
     "encoding": {
      "x": {"field": "t", "type": "quantitative", "scale": {"domain": [-214, 2640], "nice": false, "zero": false}, "axis": null},
      "y": {"field": "g", "type": "nominal", "scale": {"domain": ["Number at risk", "TNFI", "Methotrexate"]}, "axis": null},
      "text": {"field": "n", "type": "quantitative", "format": ","}}}
   ]}
  ]}
 ]
}
]
}
